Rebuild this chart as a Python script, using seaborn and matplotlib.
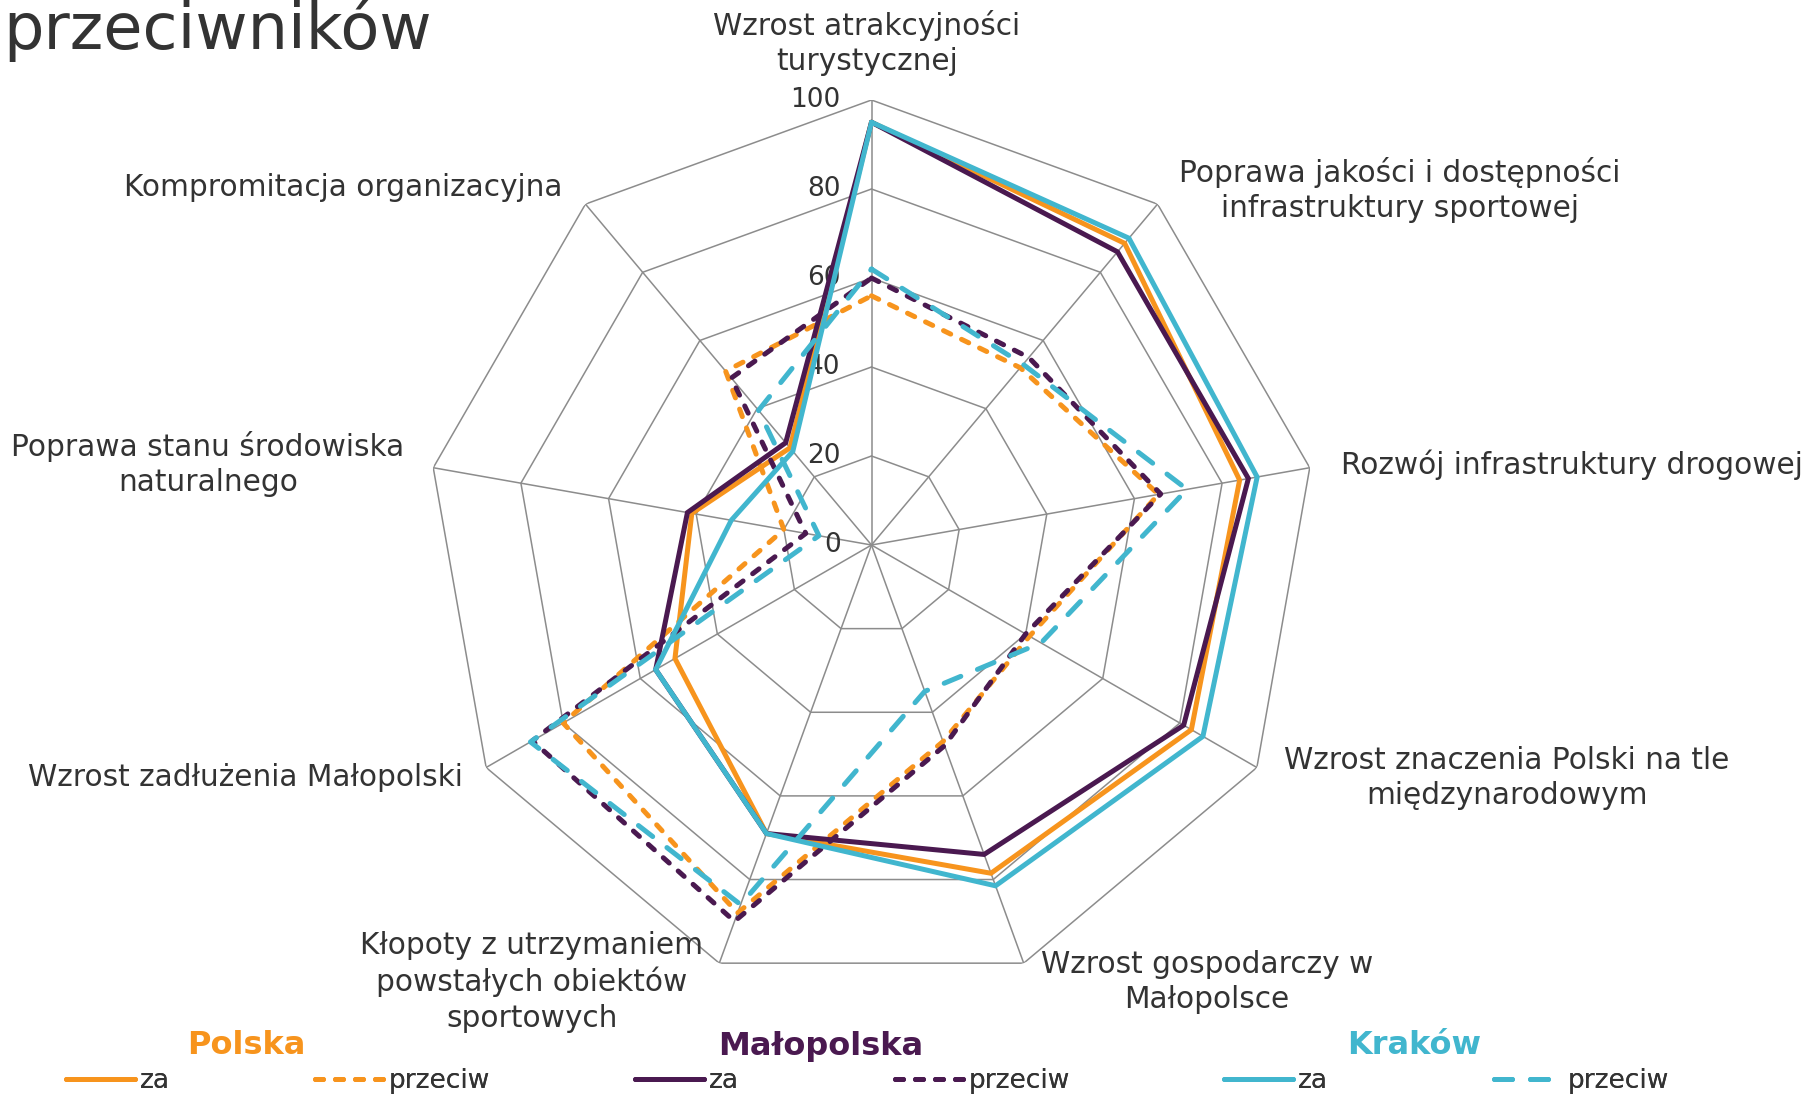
import matplotlib
matplotlib.use("Agg")
import matplotlib.pyplot as plt
import matplotlib.transforms as mtransforms
from matplotlib.lines import Line2D
import numpy as np
import pandas as pd
import seaborn as sns


# --- data ---
categories = [
    "Wzrost atrakcyjności\nturystycznej",
    "Poprawa jakości i dostępności\ninfrastruktury sportowej",
    "Rozwój infrastruktury drogowej",
    "Wzrost znaczenia Polski na tle\nmiędzynarodowym",
    "Wzrost gospodarczy w\nMałopolsce",
    "Kłopoty z utrzymaniem\npowstałych obiektów\nsportowych",
    "Wzrost zadłużenia Małopolski",
    "Poprawa stanu środowiska\nnaturalnego",
    "Kompromitacja organizacyjna",
]
polska_za = [95, 88.5, 84, 83, 78.5, 69, 51, 41, 28.5]
polska_przeciw = [56, 52, 65.5, 41, 47, 88, 80, 20, 51]
malopolska_za = [95, 86, 86, 81, 74, 69, 56, 42, 30]
malopolska_przeciw = [60, 55, 66, 40, 48, 90, 88, 15, 49]
krakow_za = [95, 90, 88, 86, 81.5, 69, 56, 32, 27.5]
krakow_przeciw = [62, 53, 72, 44, 35, 86, 88.5, 12, 39.5]
ring_values = [0, 20, 40, 60, 80, 100]

regions = ["Polska", "Małopolska", "Kraków"]
region_colors = {"Polska": "#F7941D", "Małopolska": "#4A1950", "Kraków": "#41B6CE"}
series = [
    ("Polska", "za", polska_za),
    ("Polska", "przeciw", polska_przeciw),
    ("Małopolska", "za", malopolska_za),
    ("Małopolska", "przeciw", malopolska_przeciw),
    ("Kraków", "za", krakow_za),
    ("Kraków", "przeciw", krakow_przeciw),
]
dash_styles = {
    "Polska": (0, (1.6, 2.4)),
    "Małopolska": (0, (1.6, 2.4)),
    "Kraków": (0, (3.6, 3.6)),
}

TEXT = "#333333"
GRID = "#8C8C8C"
W, H = 1810, 1095

sns.set_theme(style="white")
plt.rcParams["font.family"] = ["DejaVu Sans"]

n = len(categories)
theta = np.linspace(0, 2 * np.pi, n, endpoint=False)
theta_closed = np.append(theta, 2 * np.pi)

rows = []
for region, stance, values in series:
    closed = list(values) + [values[0]]
    for t, v in zip(theta_closed, closed):
        rows.append({"region": region, "stanowisko": stance, "theta": t, "wartosc": v})
df = pd.DataFrame(rows)

fig = plt.figure(figsize=(W / 100, H / 100), dpi=100)
cx, cy, rad = 871.5, 545.0, 445.0
ax = fig.add_axes([(cx - rad) / W, 1 - (cy + rad) / H, 2 * rad / W, 2 * rad / H], projection="polar")
ax.set_theta_zero_location("N")
ax.set_theta_direction(-1)
ax.set_ylim(0, 100)
ax.grid(False)
ax.spines["polar"].set_visible(False)
ax.set_xticks([])
ax.set_yticks([])

# polygon grid and spokes
for r in ring_values[1:]:
    ax.plot(theta_closed, [r] * len(theta_closed), color=GRID, lw=1.1, zorder=1)
for t in theta:
    ax.plot([t, t], [0, 100], color=GRID, lw=1.1, zorder=1)

# radial labels left of the top spoke
lab_tr = mtransforms.offset_copy(ax.transData, fig=fig, x=-31, y=0, units="dots")
for r in ring_values:
    ax.text(0, r, str(r), transform=lab_tr, ha="right", va="center", fontsize=19, color=TEXT)

handles = {}
for region, stance, _ in series:
    sub = df[(df["region"] == region) & (df["stanowisko"] == stance)]
    ls = "-" if stance == "za" else dash_styles[region]
    sns.lineplot(
        data=sub, x="theta", y="wartosc", ax=ax, sort=False, estimator=None,
        color=region_colors[region], linestyle=ls, lw=3.6,
        dash_capstyle="round", solid_joinstyle="miter", zorder=3, legend=False,
    )
    handles.setdefault(region, []).append(
        Line2D([], [], color=region_colors[region], lw=3.6, linestyle=ls, dash_capstyle="round")
    )
ax.set_xlabel("")
ax.set_ylabel("")
ax.set_ylim(0, 100)

# category labels
label_pos = [
    (867, 43, "center"), (1400, 190, "center"), (1341, 465, "left"),
    (1507, 778, "center"), (1207, 982, "center"), (532, 982, "center"),
    (245, 777, "center"), (208, 464, "center"), (343, 188, "center"),
]
for text, (x, y, ha) in zip(categories, label_pos):
    fig.text(x / W, 1 - y / H, text, ha=ha, va="center", multialignment="center",
             fontsize=21.3, color=TEXT, linespacing=1.3)

fig.text(3 / W, 1 - 49 / H, "przeciwników", fontsize=46, color=TEXT, va="baseline", ha="left")

# legend: one block per region, with a coloured header above it
legend_x = {"Polska": 66, "Małopolska": 635, "Kraków": 1224}
legend_gap = {"Polska": 5.5, "Małopolska": 5.9, "Kraków": 6.3}
header_x = {"Polska": 246, "Małopolska": 821, "Kraków": 1414}
for region in regions:
    leg = fig.legend(handles[region], ["za", "przeciw"], ncol=2, frameon=False,
                     loc="center left", bbox_to_anchor=(legend_x[region] / W, 1 - 1081 / H),
                     fontsize=19, handlelength=2.6, handletextpad=0.2,
                     columnspacing=legend_gap[region], borderpad=0, borderaxespad=0,
                     labelcolor=TEXT)
    fig.add_artist(leg)
    fig.text(header_x[region] / W, 1 - 1046 / H, region, ha="center", va="center",
             fontsize=23, fontweight="bold", color=region_colors[region])

fig.savefig("out.png", dpi=100)
plt.close(fig)
